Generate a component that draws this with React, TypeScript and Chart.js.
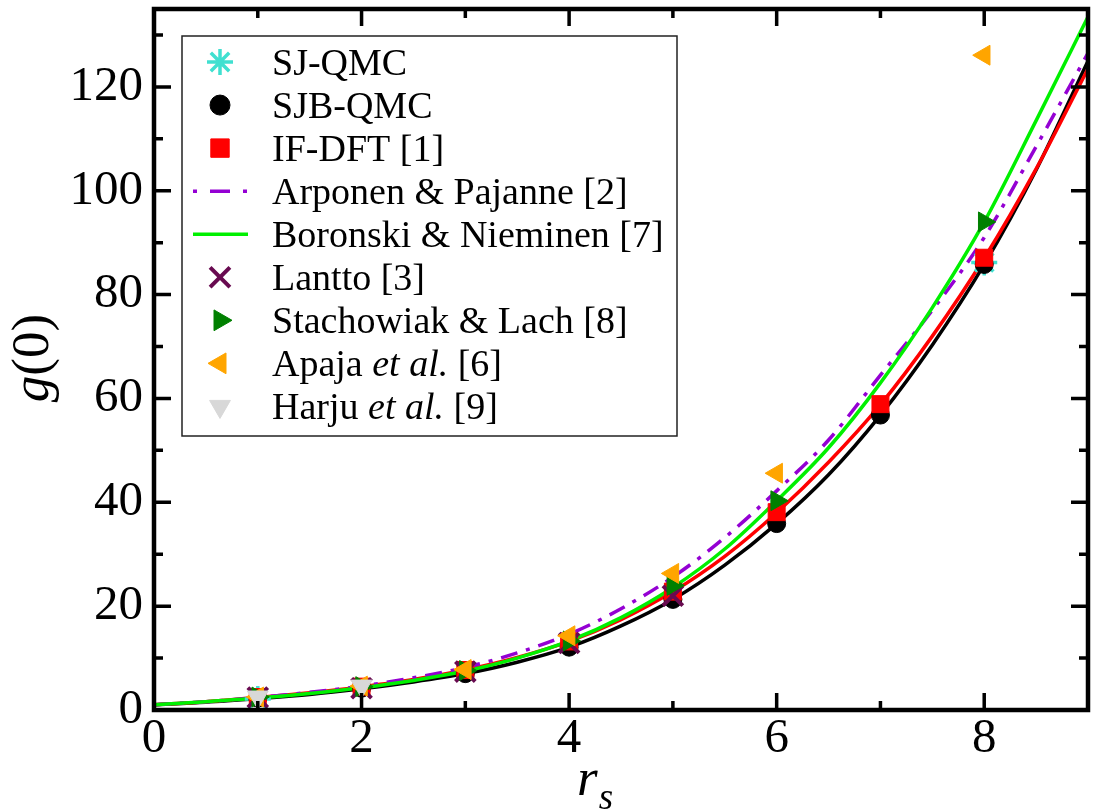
import React, { useEffect, useRef } from 'react';
import { Chart, registerables } from 'chart.js';
import { drawPoint } from 'chart.js/helpers';

Chart.register(...registerables);

// ---------- data ----------
const CURVE_RS = [0, 0.5, 1, 1.5, 2, 2.5, 3, 3.5, 4, 4.5, 5, 5.5, 6, 6.5, 7, 7.5, 8, 8.5, 9];
const SJB_CURVE = [1.0, 1.5, 2.2, 3.0, 4.1, 5.4, 7.0, 9.2, 12.1, 16.2, 21.3, 27.9, 35.9, 45.3, 56.8, 70.3, 85.8, 104.0, 125.0];
const IFDFT_CURVE = [1.0, 1.6, 2.4, 3.3, 4.5, 5.9, 7.7, 10.1, 13.2, 17.4, 22.8, 29.6, 38.0, 47.7, 58.8, 72.0, 87.0, 104.2, 123.5];
const ARPONEN_CURVE = [1.0, 1.6, 2.4, 3.4, 4.6, 6.2, 8.2, 11.0, 14.6, 19.5, 25.6, 33.2, 42.2, 52.0, 64.5, 77.0, 91.0, 108.5, 126.5];
const BORONSKI_CURVE = [1.0, 1.6, 2.3, 3.2, 4.3, 5.7, 7.5, 10.0, 13.3, 17.8, 23.6, 31.0, 40.3, 50.5, 63.0, 77.5, 94.0, 113.5, 133.5];

const SJ_RS = [1, 8];
const SJ_G = [2.1, 86.2];
const SJB_RS = [1, 2, 3, 4, 5, 6, 7, 8];
const SJB_G = [2.3, 4.2, 7.0, 12.1, 21.3, 35.9, 56.8, 85.8];
const IFDFT_RS = [1, 2, 3, 4, 5, 6, 7, 8];
const IFDFT_G = [2.5, 4.5, 7.7, 13.2, 22.8, 38.1, 58.9, 87.1];
const LANTTO_RS = [1, 2, 3, 4, 5];
const LANTTO_G = [2.4, 4.2, 7.4, 12.9, 22.0];
const STACH_RS = [1, 2, 3, 4, 5, 6, 8];
const STACH_G = [2.5, 4.5, 7.6, 13.3, 24.0, 40.3, 94.0];
const APAJA_RS = [1, 2, 3, 4, 5, 6, 8];
const APAJA_G = [2.5, 4.6, 7.8, 14.3, 26.3, 45.6, 126.1];
const HARJU_RS = [1, 2];
const HARJU_G = [2.5, 4.6];

const X_MAJOR = [0, 2, 4, 6, 8];
const X_MINOR = [1, 3, 5, 7];
const Y_MAJOR = [0, 20, 40, 60, 80, 100, 120];
const Y_MINOR = [10, 30, 50, 70, 90, 110, 130];

// legend labels: segments [text, italic]
const LEGEND_LABELS: [string, boolean][][] = [
  [['SJ-QMC', false]],
  [['SJB-QMC', false]],
  [['IF-DFT [1]', false]],
  [['Arponen & Pajanne [2]', false]],
  [['Boronski & Nieminen [7]', false]],
  [['Lantto [3]', false]],
  [['Stachowiak & Lach [8]', false]],
  [['Apaja ', false], ['et al.', true], [' [6]', false]],
  [['Harju ', false], ['et al.', true], [' [9]', false]],
];

const zip = (xs: number[], ys: number[]) => xs.map((x, i) => ({ x, y: ys[i] }));

const FONT = '"Liberation Serif", "Times New Roman", serif';

type Sym = { kind: 'point'; style: string; color: string; radius: number; rotation: number; border: number } |
  { kind: 'line'; color: string; dash: number[]; width: number };

const SYMBOLS: Sym[] = [
  { kind: 'point', style: 'star', color: '#40E0D0', radius: 13, rotation: 0, border: 3.5 },
  { kind: 'point', style: 'circle', color: '#000000', radius: 10, rotation: 0, border: 1 },
  { kind: 'point', style: 'rect', color: '#FF0000', radius: 13, rotation: 0, border: 1 },
  { kind: 'line', color: '#9400D3', dash: [4, 13, 20, 13], width: 3.5 },
  { kind: 'line', color: '#00F000', dash: [], width: 3.5 },
  { kind: 'point', style: 'crossRot', color: '#680A50', radius: 14, rotation: 0, border: 4 },
  { kind: 'point', style: 'triangle', color: '#008000', radius: 12, rotation: 90, border: 1 },
  { kind: 'point', style: 'triangle', color: '#FFA500', radius: 12, rotation: -90, border: 1 },
  { kind: 'point', style: 'triangle', color: '#D8D8D8', radius: 12, rotation: 180, border: 1 },
];

const framePlugin = {
  id: 'frameAndLegend',
  afterDatasetsDraw(chart: any) {
    const { ctx, chartArea: a, scales } = chart;
    const xs = scales.x;
    const ys = scales.y;
    ctx.save();
    ctx.strokeStyle = '#000';
    ctx.lineCap = 'butt';
    ctx.lineWidth = 3.5;
    ctx.setLineDash([]);
    const MAJ = 17;
    const MIN = 9;
    ctx.beginPath();
    const xt = (vals: number[], len: number) => {
      vals.forEach((v) => {
        const p = xs.getPixelForValue(v);
        ctx.moveTo(p, a.bottom);
        ctx.lineTo(p, a.bottom - len);
        ctx.moveTo(p, a.top);
        ctx.lineTo(p, a.top + len);
      });
    };
    const yt = (vals: number[], len: number) => {
      vals.forEach((v) => {
        const p = ys.getPixelForValue(v);
        ctx.moveTo(a.left, p);
        ctx.lineTo(a.left + len, p);
        ctx.moveTo(a.right, p);
        ctx.lineTo(a.right - len, p);
      });
    };
    xt(X_MAJOR, MAJ);
    xt(X_MINOR, MIN);
    yt(Y_MAJOR, MAJ);
    yt(Y_MINOR, MIN);
    ctx.stroke();
    ctx.lineWidth = 4.5;
    ctx.strokeRect(a.left, a.top, a.right - a.left, a.bottom - a.top);

    // axis titles
    ctx.fillStyle = '#000';
    ctx.textBaseline = 'alphabetic';
    ctx.textAlign = 'left';
    ctx.save();
    ctx.translate(48, 358);
    ctx.rotate(-Math.PI / 2);
    ctx.font = `italic 53px ${FONT}`;
    const wg = ctx.measureText('g').width;
    ctx.font = `53px ${FONT}`;
    const w0 = ctx.measureText('(0)').width;
    const start = -(wg + w0) / 2;
    ctx.font = `italic 53px ${FONT}`;
    ctx.fillText('g', start, 0);
    ctx.font = `53px ${FONT}`;
    ctx.fillText('(0)', start + wg, 0);
    ctx.restore();

    ctx.font = `italic 53px ${FONT}`;
    ctx.fillText('r', 577, 795);
    const wr = ctx.measureText('r').width;
    ctx.font = `italic 37px ${FONT}`;
    ctx.fillText('s', 577 + wr + 1, 809);

    // legend
    const lx = 182, ly = 36, lw = 495, lh = 400;
    ctx.fillStyle = '#fff';
    ctx.fillRect(lx, ly, lw, lh);
    ctx.strokeStyle = '#222';
    ctx.lineWidth = 1.5;
    ctx.strokeRect(lx, ly, lw, lh);
    LEGEND_LABELS.forEach((segs, i) => {
      const cy = 62 + i * 43.05;
      const sym = SYMBOLS[i];
      if (sym.kind === 'line') {
        ctx.strokeStyle = sym.color;
        ctx.lineWidth = sym.width;
        ctx.setLineDash(sym.dash);
        ctx.beginPath();
        ctx.moveTo(193, cy);
        ctx.lineTo(248, cy);
        ctx.stroke();
        ctx.setLineDash([]);
      } else {
        ctx.fillStyle = sym.color;
        ctx.strokeStyle = sym.color;
        ctx.lineWidth = sym.border;
        drawPoint(ctx, { pointStyle: sym.style as any, radius: sym.radius, rotation: sym.rotation, borderWidth: sym.border }, 220, cy);
      }
      let tx = 272;
      ctx.fillStyle = '#000';
      segs.forEach(([t, it]) => {
        ctx.font = `${it ? 'italic ' : ''}38px ${FONT}`;
        ctx.fillText(t, tx, cy + 12.5);
        tx += ctx.measureText(t).width;
      });
    });
    ctx.restore();
  },
};

export default function App() {
  const ref = useRef<HTMLCanvasElement>(null);
  useEffect(() => {
    document.body.style.margin = '0';
    const marker = (label: string, xsArr: number[], ysArr: number[], style: string, color: string, radius: number, rotation: number, border: number) => ({
      label,
      data: zip(xsArr, ysArr),
      showLine: false,
      pointStyle: style,
      pointRadius: radius,
      pointRotation: rotation,
      pointBackgroundColor: color,
      pointBorderColor: color,
      pointBorderWidth: border,
      backgroundColor: color,
      borderColor: color,
    });
    const curve = (label: string, ysArr: number[], color: string, dash: number[]) => ({
      label,
      data: zip(CURVE_RS, ysArr),
      showLine: true,
      pointRadius: 0,
      borderColor: color,
      backgroundColor: color,
      borderWidth: 3.5,
      borderDash: dash,
      cubicInterpolationMode: 'monotone',
      fill: false,
    });
    const datasets: any[] = [
      marker('Harju et al. [9]', HARJU_RS, HARJU_G, 'triangle', '#D8D8D8', 12, 180, 1),
      marker('Apaja et al. [6]', APAJA_RS, APAJA_G, 'triangle', '#FFA500', 11.5, -90, 1),
      marker('Stachowiak & Lach [8]', STACH_RS, STACH_G, 'triangle', '#008000', 11.5, 90, 1),
      marker('Lantto [3]', LANTTO_RS, LANTTO_G, 'crossRot', '#680A50', 14, 0, 4),
      marker('IF-DFT [1]', IFDFT_RS, IFDFT_G, 'rect', '#FF0000', 12, 0, 1),
      marker('SJB-QMC', SJB_RS, SJB_G, 'circle', '#000000', 9, 0, 1),
      marker('SJ-QMC', SJ_RS, SJ_G, 'star', '#40E0D0', 13, 0, 3.5),
      curve('Boronski & Nieminen [7]', BORONSKI_CURVE, '#00F000', []),
      curve('Arponen & Pajanne [2]', ARPONEN_CURVE, '#9400D3', [17, 9, 4, 9]),
      curve('IF-DFT curve', IFDFT_CURVE, '#FF0000', []),
      curve('SJB-QMC curve', SJB_CURVE, '#000000', []),
    ];
    const tickFont = { family: FONT, size: 49 };
    const chart = new Chart(ref.current as HTMLCanvasElement, {
      type: 'scatter',
      data: { datasets },
      options: {
        responsive: false,
        animation: false,
        devicePixelRatio: 1,
        layout: { padding: { left: 0, top: 9, right: 5, bottom: 0 }, autoPadding: false } as any,
        plugins: { legend: { display: false }, tooltip: { enabled: false } },
        scales: {
          x: {
            type: 'linear',
            min: 0,
            max: 9,
            position: 'bottom',
            grid: { display: false, drawTicks: false },
            border: { display: false },
            ticks: { font: tickFont, color: '#000', padding: 0, maxRotation: 0, autoSkip: false },
            afterBuildTicks: (s: any) => { s.ticks = X_MAJOR.map((v) => ({ value: v })); },
            afterFit: (s: any) => { s.height = 102; s.paddingLeft = 0; s.paddingRight = 0; },
          },
          y: {
            type: 'linear',
            min: 0,
            max: 135,
            grid: { display: false, drawTicks: false },
            border: { display: false },
            ticks: { font: tickFont, color: '#000', padding: 11, autoSkip: false },
            afterBuildTicks: (s: any) => { s.ticks = Y_MAJOR.map((v) => ({ value: v })); },
            afterFit: (s: any) => { s.width = 154; s.paddingTop = 0; s.paddingBottom = 0; },
          },
        },
      } as any,
      plugins: [framePlugin],
    });
    return () => chart.destroy();
  }, []);
  return (
    <div style={{ position: 'absolute', left: 0, top: 0, width: 1093, height: 812, background: '#fff' }}>
      <canvas ref={ref} width={1093} height={812} style={{ display: 'block' }} />
    </div>
  );
}
